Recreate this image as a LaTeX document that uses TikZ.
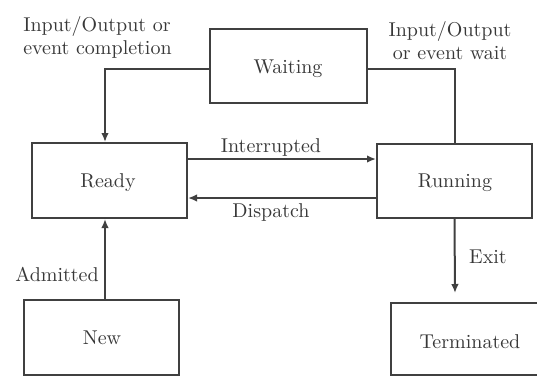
\documentclass[tikz,border=0pt]{standalone}
\usetikzlibrary{arrows.meta,calc}
\begin{document}
\begin{tikzpicture}[x=0.5pt,y=-0.5pt,
  every node/.style={text=black!78,font=\fontsize{10}{11.5}\selectfont},
  state/.style={draw=black!75,line width=1pt,rectangle,inner sep=0pt},
  conn/.style={draw=black!75,line width=1pt},
  arr/.style={conn,-{Latex[length=4.5pt,width=3.8pt]}},
  lbl/.style={inner sep=0pt,align=center}]
  \useasboundingbox (0,0) rectangle (537,377);

  % process states
  \node[state,minimum width=78.5pt,minimum height=37pt] (waiting) at (288.5,66) {};
  \node[state,minimum width=77.5pt,minimum height=37.5pt] (ready) at (109.5,180.5) {};
  \node[state,minimum width=77.5pt,minimum height=37pt] (running) at (454.5,181) {};
  \node[state,minimum width=77.5pt,minimum height=37.5pt] (new) at (101.5,337.5) {};
  % the terminated box runs off the right edge of the page
  \node[rectangle,inner sep=0pt,minimum width=90pt,minimum height=36pt] (terminated) at (481,339) {};
  \draw[conn] (terminated.north east) -- (terminated.north west)
    -- (terminated.south west) -- (terminated.south east);

  \node[lbl] (tw) at (288,69) {Waiting};
  \node[lbl] (tr) at (108,183) {Ready};
  \node[lbl] (tu) at (455,183) {Running};
  \node[lbl] (tn) at (102,338) {New};
  \node[lbl] (tt) at (470,342) {Terminated};

  % transitions
  \draw[arr] ([yshift=-1.5pt]waiting.west) -| ([xshift=-2.25pt]ready.north);
  \draw[conn] ([yshift=-1.5pt]waiting.east) -| (running.north);
  \draw[arr] ([yshift=10.75pt]ready.east) -- ([yshift=10.75pt]ready.east -| running.west);
  \draw[arr] ([yshift=-8.5pt]running.west) -- ([yshift=-8.5pt]running.west -| ready.east);
  \draw[arr] (new.north) ++(1.75pt,0) coordinate (admitStart) -- (admitStart |- ready.south);
  \coordinate (exitEnd) at (455,293);
  \draw[arr] (running.south) -- (exitEnd);

  % transition labels
  \node[lbl,align=left] (lio1) at (97.5,37) {Input/Output or\\event completion};
  \node[lbl] (lio2) at (450,41) {Input/Output\\or event wait};
  \node[lbl] (lint) at (271,147) {Interrupted};
  \node[lbl] (ldis) at (271,212) {Dispatch};
  \node[lbl] (ladm) at (57,274) {Admitted};
  \node[lbl] (lexit) at (488,257) {Exit};
\end{tikzpicture}
\end{document}
